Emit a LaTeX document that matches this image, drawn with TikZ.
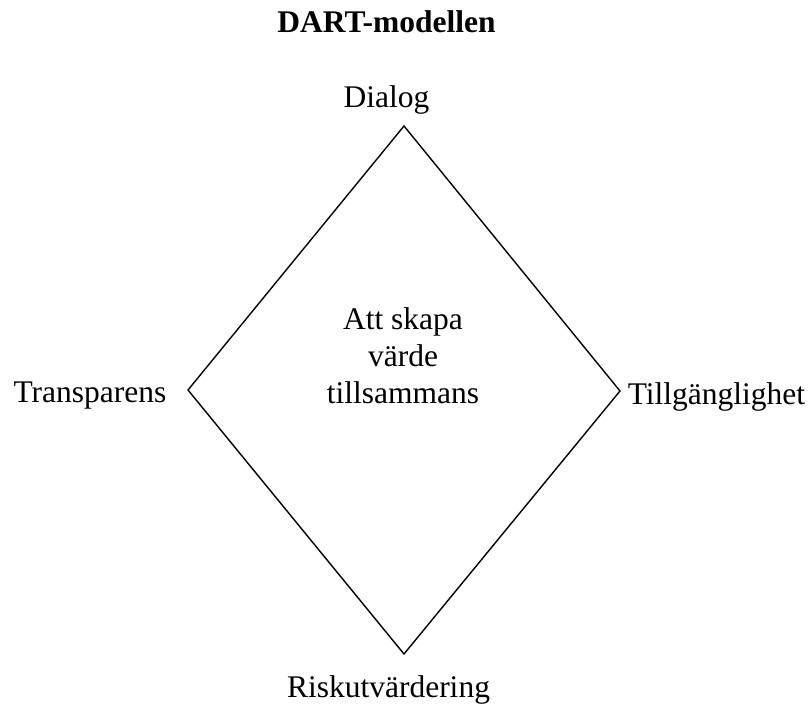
\documentclass[tikz,border=0pt]{standalone}
\usepackage{fontspec}
\setmainfont{Liberation Serif}
\begin{document}
\begin{tikzpicture}[x=1pt,y=1pt,
  lbl/.style={anchor=base,inner sep=0pt,font=\fontsize{31.5}{37}\selectfont},
  ttl/.style={anchor=base,inner sep=0pt,font=\fontsize{31.5}{37}\selectfont\bfseries},
  edge/.style={draw=black,line width=1.4pt,line join=miter}]
\useasboundingbox (0,0) rectangle (809,706);
\coordinate (top) at (404,580);
\coordinate (left) at (188,316);
\coordinate (right) at (620,315);
\coordinate (bot) at (404,52);
\draw[edge] (top) -- (right) -- (bot) -- (left) -- cycle;
\node[ttl] (title) at (386.5,673) {DART-modellen};
\node[lbl] (dialog) at (386.5,598) {Dialog};
\node[lbl] (transp) at (90,303) {Transparens};
\node[lbl] (tillg) at (716.5,301) {Tillgänglighet};
\node[lbl] (risk) at (388.5,8) {Riskutvärdering};
\node[lbl,align=center] (center) at (403,302) {Att skapa\\värde\\tillsammans};
\end{tikzpicture}
\end{document}
